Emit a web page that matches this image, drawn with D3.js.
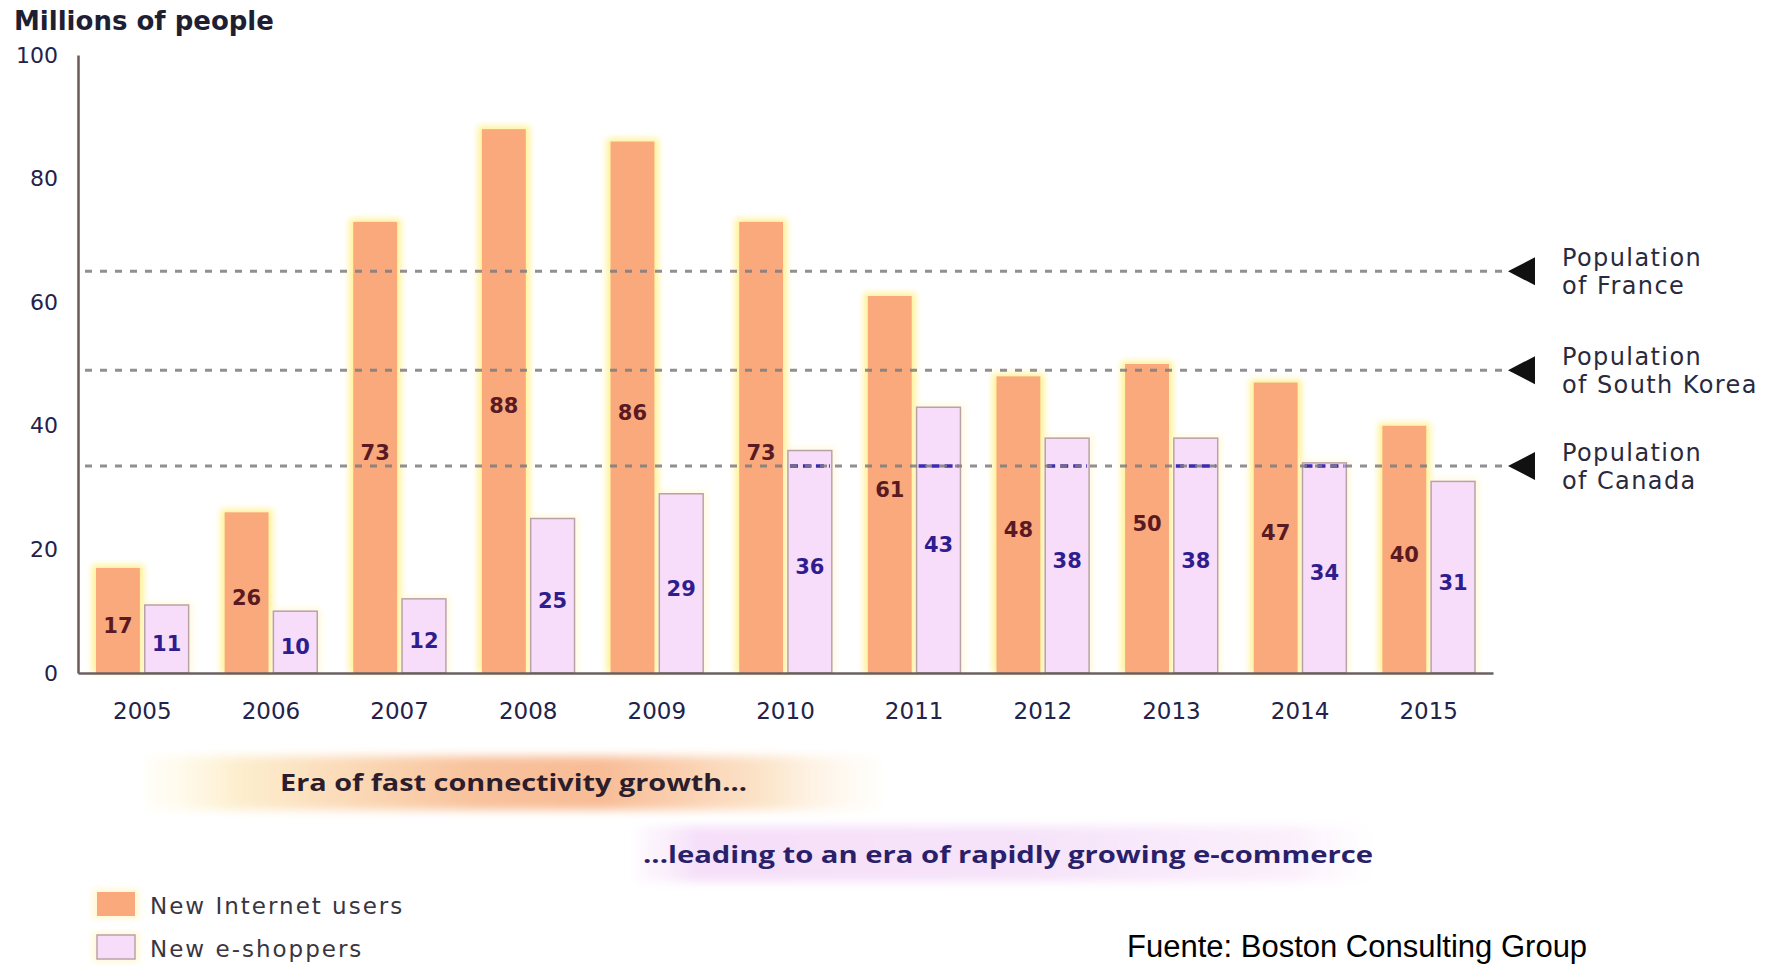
<!DOCTYPE html>
<html>
<head>
<meta charset="utf-8">
<script src="https://cdn.jsdelivr.net/npm/d3@7"></script>
<style>
  html, body { margin: 0; padding: 0; background: #ffffff; }
  svg { display: block; }
</style>
</head>
<body>
<svg id="chart" width="1775" height="966"></svg>
<script>
// ---------- data ----------
const years = ["2005","2006","2007","2008","2009","2010","2011","2012","2013","2014","2015"];
const newInternetUsers = [17, 26, 73, 88, 86, 73, 61, 48, 50, 47, 40];
const newEShoppers = [11, 10, 12, 25, 29, 36, 43, 38, 38, 34, 31];
const seriesNames = ["New Internet users", "New e-shoppers"];
const yTicks = [0, 20, 40, 60, 80, 100];
const refNames = ["France", "South Korea", "Canada"];
const refValues = [65, 49, 33.5];

// ---------- setup ----------
const svg = d3.select("#chart");
const defs = svg.append("defs");

const glow = defs.append("filter").attr("id", "glow")
  .attr("x", "-30%").attr("y", "-10%").attr("width", "160%").attr("height", "120%");
glow.append("feGaussianBlur").attr("stdDeviation", 3);

const soft = defs.append("filter").attr("id", "soft")
  .attr("x", "-10%").attr("y", "-40%").attr("width", "120%").attr("height", "180%");
soft.append("feGaussianBlur").attr("stdDeviation", 5);

const g1 = defs.append("linearGradient").attr("id", "era1");
[[0, "#fffbe6", 0.3], [0.12, "#fdefd0", 1], [0.45, "#f8c29c", 1], [0.62, "#f8bc96", 1], [0.85, "#fce6cc", 1], [1, "#fffaf0", 0.3]]
  .forEach(([o, c, a]) => g1.append("stop").attr("offset", o).attr("stop-color", c).attr("stop-opacity", a));
const g2 = defs.append("linearGradient").attr("id", "era2");
[[0, "#fbf0fc", 0.4], [0.08, "#f6e0f9", 1], [0.5, "#f6e2f9", 1], [0.88, "#fbf0fc", 1], [1, "#ffffff", 0.3]]
  .forEach(([o, c, a]) => g2.append("stop").attr("offset", o).attr("stop-color", c).attr("stop-opacity", a));

const y = d3.scaleLinear().domain([0, 100]).range([673, 55]);
const x0 = d3.scaleBand().domain(years).range([78, 1493]).paddingInner(0.28).paddingOuter(0.14);
const x1 = d3.scaleBand().domain(seriesNames).range([0, x0.bandwidth()]).paddingInner(0.1);
const colors = { "New Internet users": "#f9a97c", "New e-shoppers": "#f8ddfa" };

const data = years.map((yr, i) => ({ year: yr, values: [
  { key: seriesNames[0], value: newInternetUsers[i] },
  { key: seriesNames[1], value: newEShoppers[i] }
]}));

// ---------- title ----------
svg.append("text").attr("x", 14).attr("y", 30)
  .attr("font-family", "DejaVu Sans").attr("font-weight", "bold").attr("font-size", 26)
  .attr("fill", "#1f1f33").text("Millions of people");

// ---------- bars ----------
const groups = svg.append("g").selectAll("g").data(data).join("g")
  .attr("transform", d => `translate(${x0(d.year)},0)`);

groups.selectAll("rect.halo").data(d => d.values).join("rect").attr("class", "halo")
  .attr("x", d => x1(d.key) - 4).attr("width", x1.bandwidth() + 8)
  .attr("y", d => y(d.value) - 3).attr("height", d => y(0) - y(d.value) + 3)
  .attr("fill", d => d.key === seriesNames[0] ? "#fff08a" : "#fff6c8")
  .attr("opacity", d => d.key === seriesNames[0] ? 0.9 : 0.6)
  .attr("filter", "url(#glow)");

groups.selectAll("rect.bar").data(d => d.values).join("rect").attr("class", "bar")
  .attr("x", d => x1(d.key)).attr("width", x1.bandwidth())
  .attr("y", d => y(d.value)).attr("height", d => y(0) - y(d.value))
  .attr("fill", d => colors[d.key])
  .attr("stroke", d => d.key === seriesNames[0] ? "none" : "#b9a2a6")
  .attr("stroke-width", 1.5);

// ---------- reference lines ----------
const refG = svg.append("g");
refValues.forEach((v, i) => {
  const yy = y(v);
  refG.append("line")
    .attr("x1", 85).attr("x2", 1503)
    .attr("y1", yy).attr("y2", yy)
    .attr("stroke", "#7d7b80").attr("stroke-opacity", 0.85)
    .attr("stroke-width", 3).attr("stroke-dasharray", "7 8");
  refG.append("path")
    .attr("d", `M1508,${yy} L1535,${yy - 14} L1535,${yy + 14} Z`)
    .attr("fill", "#111");
  const t = refG.append("text").attr("x", 1562).attr("y", yy - 5)
    .attr("font-family", "DejaVu Sans").attr("font-size", 24)
    .attr("letter-spacing", 1.4).attr("fill", "#2a2a3e");
  t.append("tspan").attr("x", 1562).attr("dy", 0).text("Population");
  t.append("tspan").attr("x", 1562).attr("dy", 28).text("of " + refNames[i]);
});
const canada = refValues[2];
groups.selectAll("line.blue").data(d => d.values.filter(v => v.key === seriesNames[1] && v.value > canada))
  .join("line").attr("class", "blue")
  .attr("x1", d => x1(d.key) + 2).attr("x2", d => x1(d.key) + x1.bandwidth() - 2)
  .attr("y1", y(canada)).attr("y2", y(canada))
  .attr("stroke", "#3b2bb0").attr("stroke-width", 3.5).attr("stroke-dasharray", "8 5");

// ---------- value labels ----------
groups.selectAll("text.val").data(d => d.values).join("text").attr("class", "val")
  .attr("x", d => x1(d.key) + x1.bandwidth() / 2)
  .attr("y", d => y(d.value / 2) + 5)
  .attr("dy", "0.35em")
  .attr("text-anchor", "middle")
  .attr("font-family", "DejaVu Sans").attr("font-weight", "bold").attr("font-size", 21)
  .attr("fill", d => d.key === seriesNames[0] ? "#5b1a22" : "#2f1d8f")
  .text(d => d.value);

// ---------- axes ----------
const yAxis = svg.append("g").attr("transform", "translate(78,0)")
  .call(d3.axisLeft(y).tickValues(yTicks).tickSize(0).tickPadding(20));
yAxis.select(".domain").attr("stroke", "#6a5a55").attr("stroke-width", 2.5);
yAxis.selectAll("text").attr("font-family", "DejaVu Sans").attr("font-size", 22).attr("fill", "#22224a");

const xAxis = svg.append("g").attr("transform", `translate(0,${y(0)})`)
  .call(d3.axisBottom(x0).tickSize(0).tickPadding(30));
xAxis.select(".domain").attr("stroke", "#6a6060").attr("stroke-width", 2.5);
xAxis.selectAll("text").attr("font-family", "DejaVu Sans").attr("font-size", 23).attr("fill", "#22224a");

// ---------- era bands ----------
svg.append("rect").attr("x", 145).attr("y", 756).attr("width", 735).attr("height", 54)
  .attr("fill", "url(#era1)").attr("filter", "url(#soft)");
svg.append("text").attr("x", 280).attr("y", 783).attr("dy", "0.35em")
  .attr("font-family", "Open Sans").attr("font-weight", "bold").attr("font-size", 23)
  .attr("textLength", 467).attr("lengthAdjust", "spacingAndGlyphs")
  .attr("fill", "#2c1d2c").text("Era of fast connectivity growth...");

svg.append("rect").attr("x", 636).attr("y", 826).attr("width", 750).attr("height", 56)
  .attr("fill", "url(#era2)").attr("filter", "url(#soft)");
svg.append("text").attr("x", 643).attr("y", 855).attr("dy", "0.35em")
  .attr("font-family", "Open Sans").attr("font-weight", "bold").attr("font-size", 24)
  .attr("textLength", 730).attr("lengthAdjust", "spacingAndGlyphs")
  .attr("fill", "#2a1f6a").text("...leading to an era of rapidly growing e-commerce");

// ---------- legend ----------
const legend = svg.append("g");
seriesNames.forEach((name, i) => {
  const ly = 892 + i * 43;
  legend.append("rect").attr("x", 93).attr("y", ly - 3).attr("width", 46).attr("height", 30)
    .attr("fill", "#fff5c0").attr("opacity", 0.7).attr("filter", "url(#glow)");
  legend.append("rect").attr("x", 97).attr("y", ly).attr("width", 38).attr("height", 24)
    .attr("fill", colors[name])
    .attr("stroke", i === 0 ? "none" : "#b9a2a6").attr("stroke-width", 1.5);
  legend.append("text").attr("x", 150).attr("y", ly + 22)
    .attr("font-family", "DejaVu Sans").attr("font-size", 23).attr("letter-spacing", 2)
    .attr("fill", "#3a3540").text(name);
});

// ---------- source ----------
svg.append("text").attr("x", 1127).attr("y", 957)
  .attr("font-family", "Liberation Sans").attr("font-size", 31)
  .attr("fill", "#000").text("Fuente: Boston Consulting Group");
</script>
</body>
</html>
